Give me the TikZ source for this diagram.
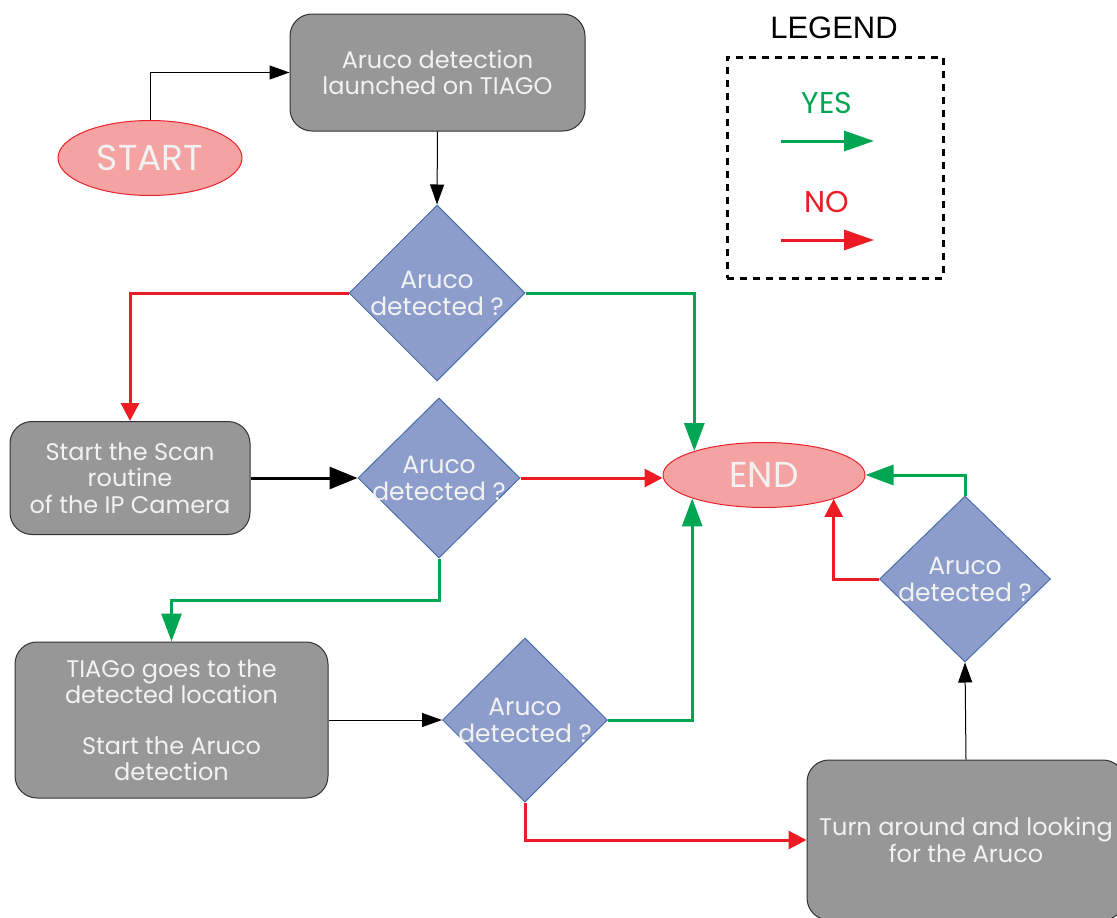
\documentclass[tikz,border=0pt]{standalone}
\usepackage{fontspec}
\setmainfont{Poppins}
\newfontfamily\legendfont{Liberation Sans}
\usetikzlibrary{shapes.geometric,arrows.meta,calc}
\definecolor{boxgray}{HTML}{979797}
\definecolor{boxline}{HTML}{333333}
\definecolor{decfill}{HTML}{8D9DCB}
\definecolor{decline}{HTML}{4A6EA8}
\definecolor{termfill}{HTML}{F4A3A2}
\definecolor{termline}{HTML}{E8232B}
\definecolor{yesgreen}{HTML}{00A651}
\definecolor{nored}{HTML}{ED1C24}
\definecolor{lighttext}{HTML}{F2F2F2}
\tikzset{
  procbox/.style={draw=boxline, line width=1pt, fill=boxgray, rounded corners=22pt,
    text=lighttext, align=center, font=\fontsize{24}{26.5}\selectfont, inner sep=0pt},
  decision/.style={diamond, draw=decline, line width=1pt, fill=decfill, aspect=1,
    inner sep=0pt},
  dtext/.style={text=lighttext, align=center, font=\fontsize{25}{27}\selectfont},
  terminal/.style={ellipse, draw=termline, line width=1pt, fill=termfill, inner sep=0pt,
    text=lighttext},
  thinarrow/.style={draw=black, line width=1pt, -{Triangle[length=20pt,width=14pt]}},
  thickarrow/.style={draw=black, line width=3pt, -{Triangle[length=28pt,width=22pt]}},
  yesarrow/.style={draw=yesgreen, line width=3pt, -{Triangle[length=28pt,width=20pt]}},
  noarrow/.style={draw=nored, line width=3pt, -{Triangle[length=18pt,width=18pt]}},
  legarrow/.style={line width=3pt, -{Triangle[length=30pt,width=20pt]}},
}
\begin{document}
\begin{tikzpicture}[x=1pt,y=-1pt]
\useasboundingbox[fill=white] (0,0) rectangle (1117,918);

% terminals
\node[terminal, minimum width=184pt, minimum height=75pt,
      font=\fontsize{36}{40}\selectfont] (start) at (150,158) {START};
\node[terminal, minimum width=202pt, minimum height=65pt,
      font=\fontsize{36}{40}\selectfont] (end) at (764,475) {END};

% process steps
\node[procbox, minimum width=295pt, minimum height=117pt] (launch) at (437.5,72.5)
  {Aruco detection\\launched on TIAGO};
\node[procbox, minimum width=240pt, minimum height=113pt] (scan) at (130,478)
  {Start the Scan\\routine\\of the IP Camera};
\node[procbox, minimum width=313pt, minimum height=156pt] (goto) at (171.5,720)
  {TIAGo goes to the\\detected location\\[24pt]Start the Aruco\\detection};
\node[procbox, minimum width=318pt, minimum height=160pt] (turn) at (966,840)
  {Turn around and looking\\for the Aruco};

% decisions
\node[decision, minimum width=176pt, minimum height=176pt,
      label={[dtext]center:Aruco\\detected ?}] (d1) at (437,293) {};
\node[decision, minimum width=162pt, minimum height=160pt,
      label={[dtext]center:Aruco\\detected ?}] (d2) at (439,478) {};
\node[decision, minimum width=165pt, minimum height=164pt,
      label={[dtext]center:Aruco\\detected ?}] (d3) at (525,720) {};
\node[decision, minimum width=171pt, minimum height=166pt,
      label={[dtext]center:Aruco\\detected ?}] (d4) at (965,579) {};

% connectors
\draw[thinarrow] (start.north) |- (launch.west);
\draw[thinarrow] (launch.south) -- (d1.north);
\draw[noarrow] (d1.west) -| (scan.north);
\draw[yesarrow] (d1.east) -| (end.161.7);
\draw[thickarrow] (scan.east) -- (d2.west);
\draw[noarrow] (d2.east) -- (d2.east -| end.west);
\draw[yesarrow] (d2.south) -- ++(0,42) -| (goto.north);
\draw[thinarrow] (goto.east) -- (d3.west);
\draw[yesarrow] (d3.east) -| (end.198.3);
\draw[noarrow] (d3.south) |- (turn.west);
\draw[thinarrow] (turn.north) -- (d4.south);
\draw[yesarrow] (d4.north) |- (end.east);
\draw[noarrow] (d4.west) -| (end.341.7);

% legend
\node[font=\legendfont\fontsize{31}{34}\selectfont] (legtitle) at (834,28) {LEGEND};
\node[draw=black, line width=3pt, dash pattern=on 7pt off 6pt,
      minimum width=216pt, minimum height=221pt] (legbox) at (835,167.5) {};
\node[text=yesgreen, font=\fontsize{30}{34}\selectfont] (yeslab) at (827,103) {YES};
\node[text=nored, font=\fontsize{30}{34}\selectfont] (nolab) at (827,202) {NO};
\coordinate (yesa) at (781,141);
\coordinate (yesb) at (874,141);
\coordinate (noa) at (781,240);
\coordinate (nob) at (874,240);
\draw[legarrow, draw=yesgreen] (yesa) -- (yesb);
\draw[legarrow, draw=nored] (noa) -- (nob);
\end{tikzpicture}
\end{document}
